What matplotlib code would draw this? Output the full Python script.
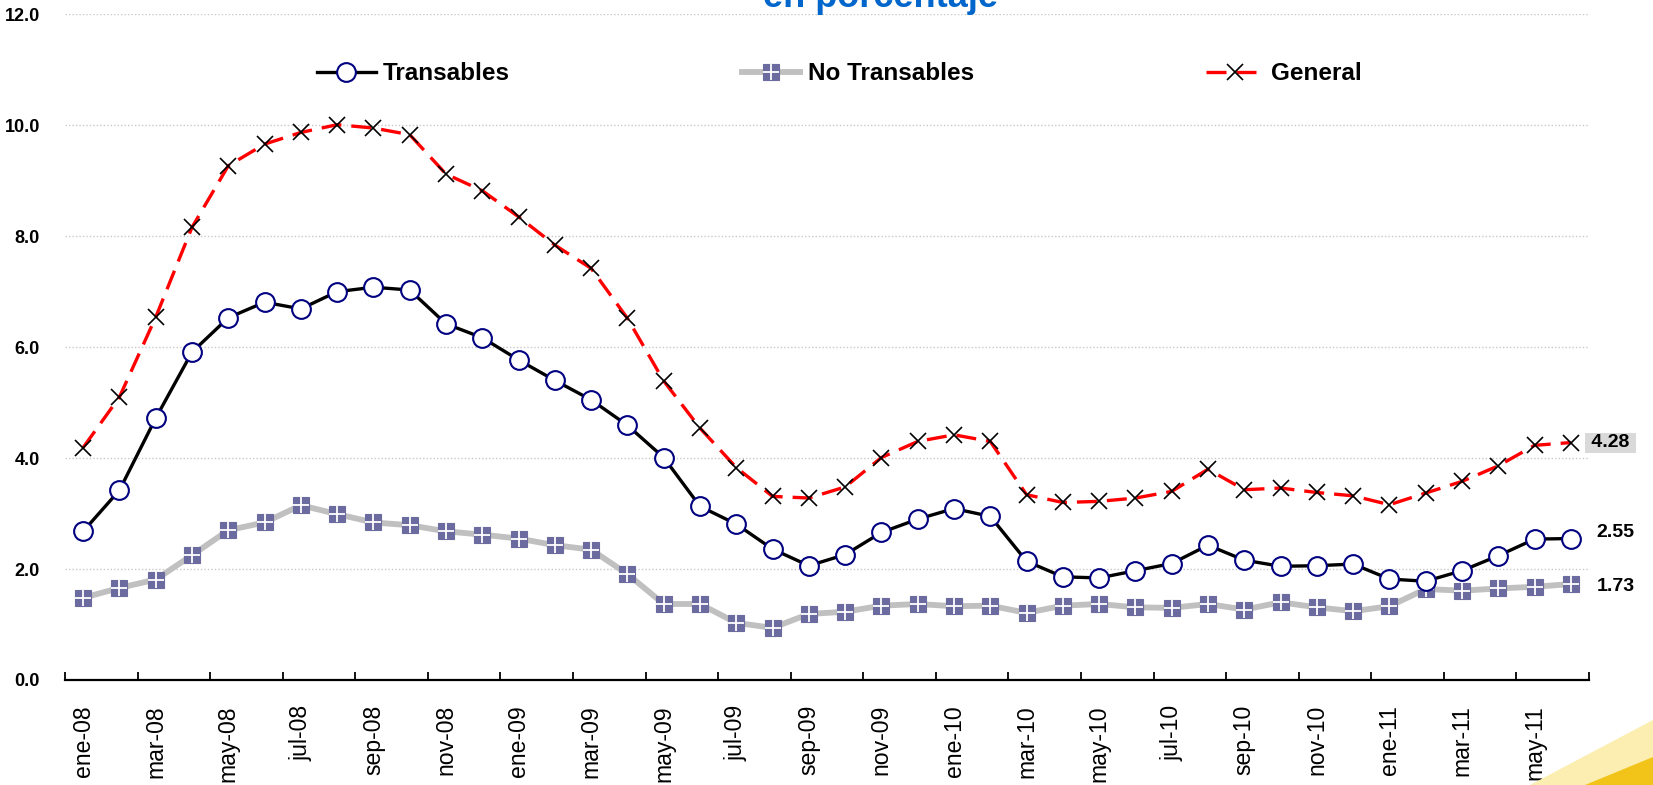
import matplotlib
matplotlib.use("Agg")
import matplotlib.pyplot as plt
from matplotlib.patches import Polygon
from matplotlib.ticker import FixedLocator, NullFormatter, FixedFormatter

plt.rcParams['font.family'] = ['Liberation Sans', 'DejaVu Sans']

months = ['ene', 'feb', 'mar', 'abr', 'may', 'jun', 'jul', 'ago', 'sep', 'oct', 'nov', 'dic']
years = ['08', '09', '10', '11']
categories = [f"{m}-{y}" for y in years for m in months][:42]

transables = [2.68, 3.42, 4.72, 5.91, 6.53, 6.81, 6.69, 7.00, 7.08, 7.03,
              6.42, 6.17, 5.77, 5.40, 5.05, 4.59, 4.01, 3.13, 2.81, 2.36,
              2.06, 2.26, 2.66, 2.90, 3.09, 2.95, 2.14, 1.86, 1.84, 1.97,
              2.10, 2.43, 2.16, 2.05, 2.06, 2.09, 1.82, 1.78, 1.97, 2.24,
              2.54, 2.55]
no_transables = [1.48, 1.66, 1.81, 2.25, 2.70, 2.84, 3.15, 2.99, 2.84, 2.79,
                 2.68, 2.62, 2.55, 2.43, 2.35, 1.91, 1.37, 1.37, 1.03, 0.94,
                 1.19, 1.23, 1.34, 1.37, 1.33, 1.34, 1.21, 1.34, 1.37, 1.31,
                 1.30, 1.37, 1.27, 1.40, 1.31, 1.24, 1.33, 1.64, 1.61, 1.65,
                 1.68, 1.73]
general = [4.19, 5.10, 6.54, 8.16, 9.27, 9.66, 9.87, 10.01, 9.95, 9.83,
           9.12, 8.82, 8.35, 7.84, 7.42, 6.52, 5.39, 4.54, 3.83, 3.31,
           3.28, 3.48, 4.01, 4.30, 4.42, 4.30, 3.34, 3.20, 3.22, 3.28,
           3.40, 3.80, 3.43, 3.46, 3.38, 3.32, 3.16, 3.37, 3.58, 3.86,
           4.23, 4.28]
series_names = ['Transables', 'No Transables', 'General']
yticks = [0, 2, 4, 6, 8, 10, 12]

x = list(range(len(categories)))

fig = plt.figure(figsize=(16.53, 7.85), dpi=100)
ax = fig.add_axes([65/1653, 1-680/785, (1589-65)/1653, (680-14.3)/785])

ln_nt, = ax.plot(x, no_transables, color='#c0c0c0', lw=4.2, marker='s', ms=11,
                 mfc='#6b6b9f', mec='#6b6b9f', mew=0.8, zorder=2)
ln_ntp, = ax.plot(x, no_transables, ls='none', marker='+', ms=11, mec='white',
                  mew=1.3, zorder=3)
ln_t, = ax.plot(x, transables, color='black', lw=2.4, marker='o', ms=13.5,
                mfc='white', mec='#000080', mew=1.5, zorder=4)
ln_g, = ax.plot(x, general, color='#ff0000', lw=2.4, dashes=(6, 3),
                marker='x', ms=11.5, mec='black', mew=1.2, zorder=5)

ax.set_xlim(-0.5, len(categories) - 0.5)
ax.set_ylim(0, 12)

ax.xaxis.set_major_locator(FixedLocator([i - 0.5 for i in range(0, len(categories) + 1, 2)]))
ax.xaxis.set_major_formatter(NullFormatter())
ax.xaxis.set_minor_locator(FixedLocator(x[::2]))
ax.xaxis.set_minor_formatter(FixedFormatter(categories[::2]))
ax.tick_params(axis='x', which='major', direction='in', length=6, width=1.3, color='black')
ax.tick_params(axis='x', which='minor', length=0, pad=18, labelsize=16.6, labelrotation=90)

ax.set_yticks(yticks)
ax.set_yticklabels([f"{v:.1f}" for v in yticks], fontweight='bold', fontsize=13)
ax.tick_params(axis='y', length=0, pad=18)
for v in yticks[1:]:
    ax.axhline(v, color='#c8c8c8', lw=1, ls=(0, (1, 1.5)), zorder=0)

for s in ['top', 'right', 'left']:
    ax.spines[s].set_visible(False)
ax.spines['bottom'].set_linewidth(1.6)
ax.spines['bottom'].set_color('black')

# end labels
ax.annotate(f" {general[-1]:.2f} ", xy=(x[-1], general[-1]), xytext=(11, 0),
            textcoords='offset points', va='center', ha='left', fontsize=14,
            fontweight='bold', annotation_clip=False,
            bbox=dict(boxstyle='square,pad=0.08', fc='#d9d9d9', ec='none'))
ax.annotate(f"{transables[-1]:.2f}", xy=(x[-1], transables[-1]), xytext=(18.5, 4.7),
            textcoords='offset points', va='center', ha='left', fontsize=14,
            fontweight='bold', annotation_clip=False)
ax.annotate(f"{no_transables[-1]:.2f}", xy=(x[-1], no_transables[-1]), xytext=(18.5, -2),
            textcoords='offset points', va='center', ha='left', fontsize=14,
            fontweight='bold', annotation_clip=False)

leg = fig.legend([ln_t, (ln_nt, ln_ntp), ln_g], series_names, loc='center',
                 bbox_to_anchor=(0.508, 1-74/785), ncol=3, frameon=False,
                 handlelength=2.4, handletextpad=0.3, columnspacing=9.55,
                 prop={'weight': 'bold', 'size': 17.5}, borderpad=0)

# cut-off title
fig.text(880/1653, 1-7/785, 'en porcentaje', color='#0066cc', fontsize=26,
         fontweight='bold', ha='center', va='baseline')

# decorative corner swoosh
fig.patches.append(Polygon([(1530/1653, 0), (1653/1653, 65/785), (1, 0)],
                           closed=True, transform=fig.transFigure,
                           fc='#fbeeb0', ec='none', zorder=0))
fig.patches.append(Polygon([(1585/1653, 0), (1653/1653, 28/785), (1, 0)],
                           closed=True, transform=fig.transFigure,
                           fc='#f2c41a', ec='none', zorder=0))

fig.savefig('out.png', dpi=100)
